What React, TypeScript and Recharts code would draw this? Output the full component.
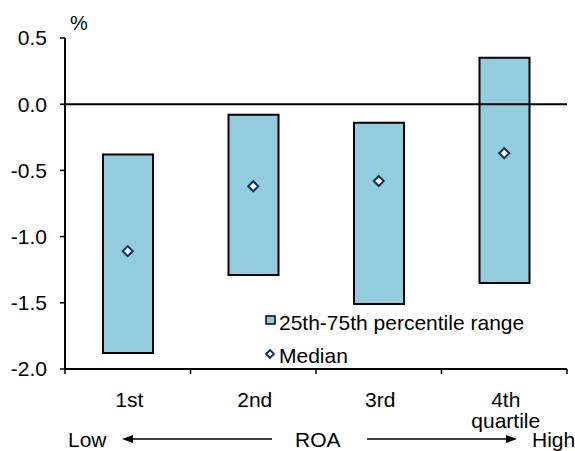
import { ComposedChart, Bar, Scatter, XAxis, YAxis, ReferenceLine, Legend } from 'recharts';

const categories = ['1st', '2nd', '3rd', '4th quartile'];
const p25 = [-1.88, -1.29, -1.51, -1.35];
const p75 = [-0.38, -0.08, -0.14, 0.35];
const median = [-1.11, -0.62, -0.58, -0.37];
const yTicks = [-2, -1.5, -1, -0.5, 0, 0.5];

const FONT = '"Liberation Sans", Arial, sans-serif';
const BLUE = '#93CDDD';
const NAVY = '#0f2d6b';

const chartData = categories.map((name, i) => ({
  name,
  range: [p25[i], p75[i]],
  median: median[i],
}));

const Diamond = (props: any) => {
  const { cx, cy } = props;
  const r = 5;
  return (
    <path
      d={`M${cx},${cy - r}L${cx + r},${cy}L${cx},${cy + r}L${cx - r},${cy}Z`}
      fill="#fff"
      stroke={NAVY}
      strokeWidth={2}
    />
  );
};

// category labels under the band centre, tick marks on the band edges
const CategoryTick = (props: any) => {
  const { x, y, payload, index, visibleTicksCount, width } = props;
  const half = payload.offset || width / visibleTicksCount / 2;
  const lines = String(payload.value).split(' ');
  return (
    <g>
      <line x1={x - half} x2={x - half} y1={y} y2={y + 5} stroke="#000" strokeWidth={1.5} />
      {index === visibleTicksCount - 1 && (
        <line x1={x + half} x2={x + half} y1={y} y2={y + 5} stroke="#000" strokeWidth={1.5} />
      )}
      {lines.map((l, i) => (
        <text
          key={i}
          x={x + 1.5}
          y={y + 38 + i * 21}
          textAnchor="middle"
          fill="#000"
          fontSize={21}
          fontFamily={FONT}
        >
          {l}
        </text>
      ))}
    </g>
  );
};

const renderLegend = () => (
  <svg width={300} height={60} style={{ display: 'block', overflow: 'visible' }}>
    <rect x={4} y={6} width={9} height={8} fill={BLUE} stroke="#000" strokeWidth={1.5} />
    <text x={17} y={20} fontSize={21} fontFamily={FONT} fill="#000">
      25th-75th percentile range
    </text>
    <path d="M8,40L12,44L8,48L4,44Z" fill="#fff" stroke={NAVY} strokeWidth={1.8} />
    <text x={17} y={53} fontSize={21} fontFamily={FONT} fill="#000">
      Median
    </text>
  </svg>
);

export default function App() {
  return (
    <div style={{ position: 'absolute', left: 0, top: 0, width: 575, height: 451, background: '#fff', fontFamily: FONT }}>
      <ComposedChart width={575} height={451} data={chartData} margin={{ top: 38, right: 8, left: 0, bottom: 0 }}>
        <XAxis
          dataKey="name"
          height={82}
          axisLine={{ stroke: '#000', strokeWidth: 2 }}
          tickLine={false}
          tickSize={0}
          tickMargin={0}
          interval={0}
          tick={<CategoryTick />}
        />
        <YAxis
          width={65}
          domain={[-2, 0.5]}
          ticks={yTicks}
          allowDataOverflow
          axisLine={{ stroke: '#000', strokeWidth: 2 }}
          tickLine={{ stroke: '#000', strokeWidth: 1.5 }}
          tickSize={5}
          tickMargin={13}
          tickFormatter={(v: number) => v.toFixed(1)}
          tick={{ fill: '#000', fontSize: 21, fontFamily: FONT }}
        />
        <Bar
          dataKey="range"
          name="25th-75th percentile range"
          barSize={50}
          fill={BLUE}
          stroke="#000"
          strokeWidth={2}
          isAnimationActive={false}
        />
        <ReferenceLine y={0} stroke="#000" strokeWidth={2} zIndex={900} />
        <Scatter dataKey="median" name="Median" shape={<Diamond />} isAnimationActive={false} zIndex={1000} />
        <Legend
          layout="vertical"
          align="center"
          verticalAlign="middle"
          content={renderLegend}
          wrapperStyle={{ left: 262, top: 310, width: 300 }}
        />
      </ComposedChart>
      <svg
        width={575}
        height={451}
        style={{ position: 'absolute', left: 0, top: 0, pointerEvents: 'none' }}
        fontFamily={FONT}
      >
        <text x={70} y={30} fontSize={20} fill="#000">%</text>
        <text x={68} y={447} fontSize={21} fill="#000">Low</text>
        <line x1={130} x2={272} y1={439} y2={439} stroke="#000" strokeWidth={1.5} />
        <polygon points="122,439 133,435 133,443" fill="#000" />
        <text x={295} y={447} fontSize={21} fill="#000">ROA</text>
        <line x1={367} x2={509} y1={439} y2={439} stroke="#000" strokeWidth={1.5} />
        <polygon points="517,439 506,435 506,443" fill="#000" />
        <text x={532} y={447} fontSize={21} fill="#000">High</text>
      </svg>
    </div>
  );
}
